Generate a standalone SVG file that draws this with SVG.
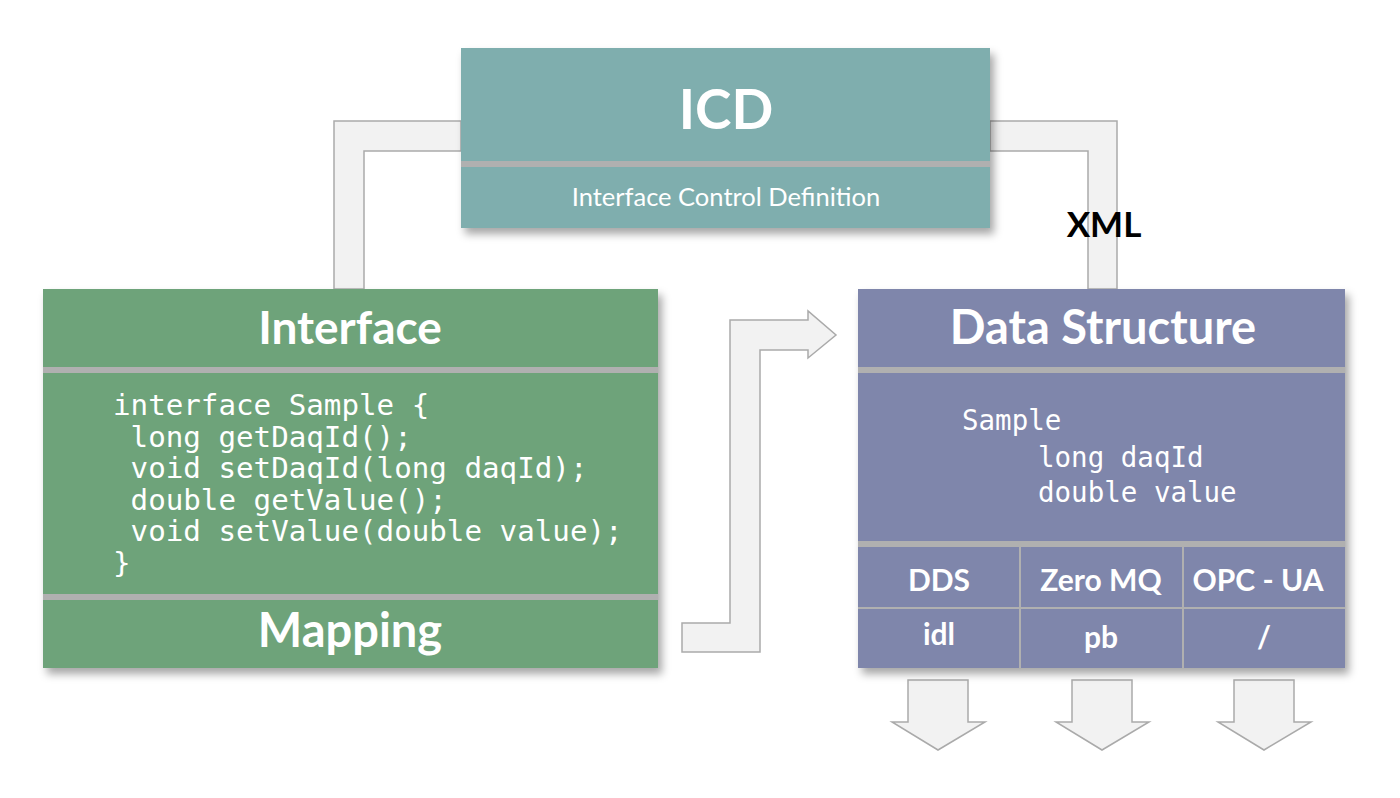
<svg xmlns="http://www.w3.org/2000/svg" width="1400" height="798" viewBox="0 0 1400 798">
<defs>
<filter id="sh" x="-10%" y="-10%" width="125%" height="130%"><feDropShadow dx="4" dy="6" stdDeviation="4" flood-color="#000" flood-opacity="0.35"/></filter>
</defs>
<style>
.conn{fill:#f2f2f2;stroke:#aaaaaa;stroke-width:1.5}
.sep{fill:#b0b0b0}
.t{font-family:Lato,"Open Sans","Liberation Sans",sans-serif;fill:#fff;text-anchor:middle}
.b{font-weight:bold}
.m{font-family:"DejaVu Sans Mono","Liberation Mono",monospace;fill:#fff;white-space:pre}
.div{stroke:#b0b0b0;stroke-width:2}
</style>
<rect width="1400" height="798" fill="#fff"/>
<g id="connectors">
<path class="conn" d="M461,121 H334 V289 H364 V151 H461 Z"/>
<path class="conn" d="M990,121 H1117 V289 H1088 V151 H990 Z"/>
<path class="conn" d="M682,623 H730 V320 H808 V311 L836,335 L808,358 V350 H760 V652 H682 Z"/>
<path class="conn" d="M908,680 H968 V722 H985 L938,750 L892,722 H908 Z"/>
<path class="conn" d="M1072,680 H1132 V722 H1149 L1102,750 L1056,722 H1072 Z"/>
<path class="conn" d="M1234,680 H1294 V722 H1311 L1264,750 L1218,722 H1234 Z"/>
</g>
<g id="icd">
<rect x="461" y="48" width="529" height="180" fill="#7faeae" filter="url(#sh)"/>
<rect class="sep" x="461" y="161" width="529" height="6"/>
<text class="t b" x="726" y="129" font-size="55">ICD</text>
<text class="t" x="726" y="206" font-size="25.5">Interface Control Definition</text>
</g>
<g id="xml"><text x="1104" y="237" font-family="Lato,'Liberation Sans',sans-serif" font-weight="bold" font-size="35" text-anchor="middle" fill="#000">XML</text></g>
<g id="interface">
<rect x="43" y="289" width="615" height="379" fill="#6ea37a" filter="url(#sh)"/>
<rect class="sep" x="43" y="367" width="615" height="6"/>
<rect class="sep" x="43" y="594" width="615" height="6"/>
<text class="t b" x="350" y="344" font-size="46">Interface</text>
<text class="m" x="113" y="415" font-size="29.2">interface Sample {</text>
<text class="m" x="113" y="447" font-size="29.2"> long getDaqId();</text>
<text class="m" x="113" y="478" font-size="29.2"> void setDaqId(long daqId);</text>
<text class="m" x="113" y="510" font-size="29.2"> double getValue();</text>
<text class="m" x="113" y="541" font-size="29.2"> void setValue(double value);</text>
<text class="m" x="113" y="573" font-size="29.2">}</text>
<text class="t b" x="350" y="647" font-size="47">Mapping</text>
</g>
<g id="datastructure">
<rect x="858" y="289" width="487" height="379" fill="#7f86ab" filter="url(#sh)"/>
<rect class="sep" x="858" y="367" width="487" height="6"/>
<rect class="sep" x="858" y="541" width="487" height="6"/>
<line class="div" x1="858" y1="608" x2="1345" y2="608"/>
<line class="div" x1="1020" y1="547" x2="1020" y2="668"/>
<line class="div" x1="1183" y1="547" x2="1183" y2="668"/>
<text class="t b" x="1103" y="344" font-size="47">Data Structure</text>
<text class="m" x="962" y="430" font-size="27.5">Sample</text>
<text class="m" x="1038" y="467" font-size="27.5">long daqId</text>
<text class="m" x="1038" y="502" font-size="27.5">double value</text>
<text class="t b" x="939" y="591" font-size="30">DDS</text>
<text class="t b" x="1101" y="591" font-size="30">Zero MQ</text>
<text class="t b" x="1258" y="591" font-size="30">OPC - UA</text>
<text class="t b" x="939" y="645" font-size="30">idl</text>
<text class="t b" x="1101" y="648" font-size="30">pb</text>
<text class="t b" x="1264" y="648" font-size="30">/</text>
</g>
</svg>
